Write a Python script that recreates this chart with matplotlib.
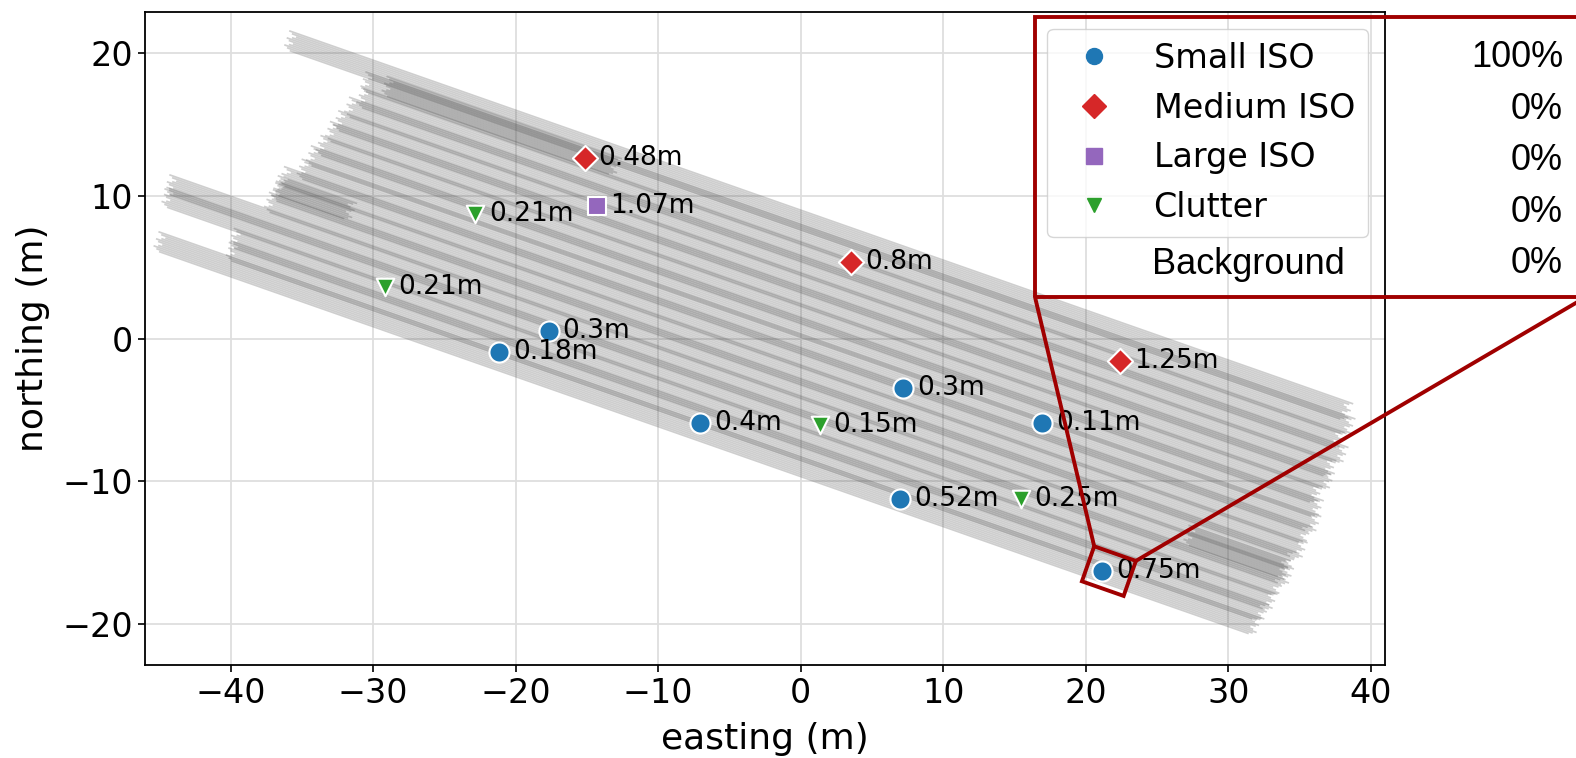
import numpy as np
import matplotlib.pyplot as plt
from matplotlib.collections import LineCollection
from matplotlib.lines import Line2D
from matplotlib.patches import Rectangle, Polygon, ConnectionPatch

# survey passes: cross-track offset (m) and along-track start / end (m)
heading_deg = -19.3
pass_offset = [7.85, 6.9, 5.75, 4.85, 3.7, 2.8, 1.65, 0.75, -0.35, -1.25,
               -2.4, -3.3, -4.45, -5.35, -6.5, -7.4, -8.47, 7.1, -2.0, -4.0]
pass_start = [-41.0, -35.0, -34.9, -35.5, -35.9, -36.2, -36.5, -36.9, -37.2, -38.2,
              -38.4, -38.6, -45.6, -45.5, -40.1, -40.0, -45.0, -33.5, -38.4, 30.0]
pass_end = [38.1, 38.6, 38.2, 38.8, 38.3, 38.5, 38.0, 38.4, 38.6, 38.2,
            38.3, 37.8, 38.0, 37.6, 37.5, 37.2, 37.0, -16.0, -32.5, 37.6]
# sensor channels across each pass and their along-track lag
channel_offset = [-0.65, -0.52, -0.39, -0.26, -0.13, 0.0, 0.13, 0.26, 0.39, 0.52, 0.65]
channel_lag = [0.5, 0.25, 0.0, 0.3, 0.55, 0.2, 0.0, 0.35, 0.6, 0.25, 0.0]

# targets
small_x = [-17.68, -21.16, 7.2, -7.05, 16.93, 6.99, 21.17]
small_y = [0.56, -0.92, -3.45, -5.92, -5.92, -11.27, -16.27]
small_lbl = ['0.3m', '0.18m', '0.3m', '0.4m', '0.11m', '0.52m', '0.75m']
medium_x = [-15.16, 3.53, 22.43]
medium_y = [12.68, 5.35, -1.55]
medium_lbl = ['0.48m', '0.8m', '1.25m']
large_x = [-14.32]
large_y = [9.3]
large_lbl = ['1.07m']
clutter_x = [-22.85, -29.19, 1.33, 15.44]
clutter_y = [8.74, 3.59, -6.05, -11.27]
clutter_lbl = ['0.21m', '0.21m', '0.15m', '0.25m']

class_names = ['Small ISO', 'Medium ISO', 'Large ISO', 'Clutter', 'Background']
class_pct = [100, 0, 0, 0, 0]

fig = plt.figure(figsize=(15.76, 7.58), dpi=100)
ax = fig.add_axes([145 / 1576, 1 - 665 / 758, 1240 / 1576, 653 / 758])

# survey lines
th = np.deg2rad(heading_deg)
u = np.array([np.cos(th), np.sin(th)])
n = np.array([-np.sin(th), np.cos(th)])
segs = []
for v0, s0, s1 in zip(pass_offset, pass_start, pass_end):
    for c, lag in zip(channel_offset, channel_lag):
        v = v0 + c
        segs.append([(s0 + lag) * u + v * n, (s1 - lag) * u + v * n])
ax.add_collection(LineCollection(segs, colors='0.3', alpha=0.27,
                                 linewidths=1.25, zorder=1))

groups = [
    (small_x, small_y, small_lbl, 'o', '#1f77b4', 210),
    (medium_x, medium_y, medium_lbl, 'D', '#d62728', 165),
    (large_x, large_y, large_lbl, 's', '#9467bd', 170),
    (clutter_x, clutter_y, clutter_lbl, 'v', '#2ca02c', 160),
]
for xs, ys, lbls, mk, col, sz in groups:
    ax.scatter(xs, ys, marker=mk, s=sz, color=col, edgecolors='white',
               linewidths=1.5, zorder=3)
    for x, y, t in zip(xs, ys, lbls):
        ax.annotate(t, (x, y), xytext=(10, 0), textcoords='offset points',
                    ha='left', va='center', fontsize=19, zorder=4)

ax.set_xlim(-46.0, 41.0)
ax.set_ylim(-22.87, 22.89)
ax.set_xticks(range(-40, 41, 10))
ax.set_yticks(range(-20, 21, 10))
ax.grid(True, color='0.87', linewidth=1.3)
ax.set_axisbelow(True)
ax.tick_params(labelsize=24, length=5, width=1.2)
for sp in ax.spines.values():
    sp.set_linewidth(1.3)
ax.set_xlabel('easting (m)', fontsize=26, labelpad=9)
ax.set_ylabel('northing (m)', fontsize=26, labelpad=9)

handles = [Line2D([], [], ls='', marker='o', color='#1f77b4', markersize=11.5),
           Line2D([], [], ls='', marker='D', color='#d62728', markersize=12),
           Line2D([], [], ls='', marker='s', color='#9467bd', markersize=11),
           Line2D([], [], ls='', marker='v', color='#2ca02c', markersize=10)]
ax.legend(handles, class_names[:4], loc='upper right', fontsize=24)

# zoom box around the 0.75m target
red = '#a00000'
cx, cy = small_x[-1] + 0.46, small_y[-1] - 0.02
w, h = 3.1, 2.6
corners = np.array([cx, cy]) + np.array([
    -w / 2 * u + h / 2 * n, w / 2 * u + h / 2 * n,
    w / 2 * u - h / 2 * n, -w / 2 * u - h / 2 * n])
ax.add_patch(Polygon(corners, closed=True, fill=False, edgecolor=red,
                     linewidth=2.8, zorder=5))

box_l, box_b, box_r, box_t = 1035 / 1576, 1 - 297 / 758, 1586 / 1576, 1 - 17 / 758
fig.add_artist(Rectangle((box_l, box_b), box_r - box_l, box_t - box_b,
                         transform=fig.transFigure, fill=False,
                         edgecolor=red, linewidth=2.8, clip_on=False))
for corner, bx in [(corners[0], box_l), (corners[1], box_r)]:
    fig.add_artist(ConnectionPatch(xyA=corner, coordsA=ax.transData,
                                   xyB=(bx, box_b), coordsB=fig.transFigure,
                                   color=red, linewidth=2.8))

fig.text(1152 / 1576, 1 - 264 / 758, class_names[4], ha='left', va='center',
         fontsize=26, family='Liberation Sans')
for i, p in enumerate(class_pct):
    fig.text(1563 / 1576, 1 - (57.5 + 51.6 * i) / 758, f'{p}%', ha='right',
             va='center', fontsize=26, family='Liberation Sans')

fig.savefig('out.png', dpi=100)
